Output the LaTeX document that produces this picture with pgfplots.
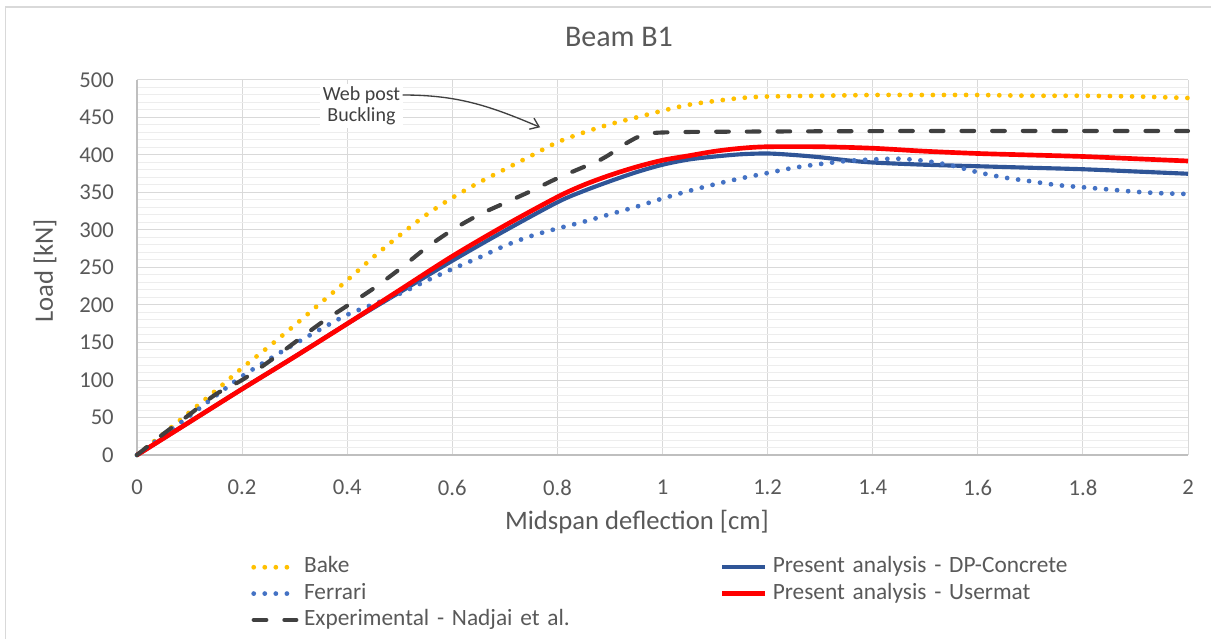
\documentclass[border=0pt]{standalone}
\usepackage{fontspec}
\setmainfont{Carlito}
\usepackage{pgfplots}
\pgfplotsset{compat=1.18}
\usetikzlibrary{arrows.meta}
\definecolor{txt}{HTML}{595959}
\definecolor{bake}{HTML}{FFC000}
\definecolor{ferr}{HTML}{4472C4}
\definecolor{dpc}{HTML}{2F5597}
\definecolor{usr}{HTML}{FF0000}
\definecolor{expc}{HTML}{404040}
\definecolor{gridmaj}{HTML}{D9D9D9}
\definecolor{gridmin}{HTML}{EDEDED}
\definecolor{axc}{HTML}{BFBFBF}
\begin{document}
\begin{tikzpicture}
\useasboundingbox (-102.75pt,-138pt) rectangle (805.5pt,341.25pt);
\draw[gridmaj, line width=1.2pt] (-98.6pt,-140pt) -- (-98.6pt,336pt) -- (810pt,336pt);
\begin{axis}[
  at={(0pt,0pt)}, anchor=south west,
  scale only axis, width=788.25pt, height=281.25pt,
  xmin=0, xmax=2, ymin=0, ymax=500,
  xtick={0,0.2,0.4,0.6,0.8,1,1.2,1.4,1.6,1.8,2},
  ytick={0,50,100,150,200,250,300,350,400,450,500},
  minor y tick num=4,
  xmajorgrids, ymajorgrids, yminorgrids,
  major grid style={gridmaj, line width=0.75pt},
  minor grid style={gridmin, line width=0.75pt},
  axis x line*=bottom, axis y line*=left,
  axis line style={axc, line width=1.5pt},
  tick style={draw=none},
  clip=false,
  /pgf/number format/assume math mode=true,
  ticklabel style={font=\fontsize{17}{20}\selectfont, text=txt, inner sep=0pt},
  xticklabel style={anchor=north, yshift=-18.75pt},
  yticklabel style={anchor=east, xshift=-17.25pt},
  title={Beam B1},
  title style={at={(axis description cs:0.4586,1.0933)}, anchor=center, font=\fontsize{22.5}{24}\selectfont, text=txt, inner sep=0pt},
  xlabel={Midspan deflection [cm]},
  xlabel style={at={(axis description cs:0.4757,-0.1787)}, anchor=center, font=\fontsize{20}{22}\selectfont, text=txt, inner sep=0pt},
  ylabel={Load [kN]},
  ylabel style={at={(axis description cs:-0.0875,0.4907)}, anchor=center, font=\fontsize{20}{22}\selectfont, text=txt, inner sep=0pt},
  legend columns=2,
  legend cell align=left,
  legend image code/.code={\path (0pt,0pt) (36pt,0pt); \draw[#1] (0pt,0pt) -- (32pt,0pt);},
  legend style={at={(axis description cs:0.1085,-0.2693)}, anchor=north west, draw=none, fill=none, inner sep=0pt,
    font=\fontsize{17.5}{20}\selectfont, text=txt, row sep=3.25pt,
    /tikz/every odd column/.append style={column sep=0pt},
    nodes={text width=312pt, align=left, text height=12.5pt, text depth=4pt, inner xsep=0pt, inner ysep=0pt}},
]
\addplot[bake, line width=3.6pt, line cap=round, dash pattern=on 0pt off 8.3pt, smooth, tension=0.5] coordinates {
(0,0) (0.05,28) (0.1,57) (0.15,86) (0.2,116) (0.25,144) (0.3,173) (0.35,203) (0.4,233) (0.45,264) (0.5,293) (0.55,320) (0.6,343) (0.65,363) (0.7,381) (0.75,399) (0.8,417) (0.85,430) (0.9,441) (0.95,450) (1.0,459) (1.05,467) (1.1,472) (1.15,476) (1.2,478) (1.3,479) (1.4,480) (1.5,480) (1.6,480) (1.7,479) (1.8,479) (1.9,478) (2.0,476)
};
\addlegendentry{Bake}
\addplot[dpc, line width=3.1pt, smooth, tension=0.5] coordinates {
(0,0) (0.1,44) (0.2,88) (0.3,131) (0.4,175) (0.5,217) (0.6,259) (0.7,299) (0.8,337) (0.85,352) (0.9,365) (0.95,377) (1.0,387) (1.05,394) (1.1,398) (1.15,401) (1.2,402) (1.25,400) (1.3,397) (1.35,393) (1.4,390) (1.5,387) (1.6,385) (1.7,383) (1.8,381) (1.9,378) (2.0,375)
};
\addlegendentry{Present analysis - DP-Concrete}
\addplot[ferr, line width=3.6pt, line cap=round, dash pattern=on 0pt off 8.3pt, smooth, tension=0.5] coordinates {
(0,0) (0.05,26) (0.1,52) (0.15,79) (0.2,105) (0.25,127) (0.3,148) (0.35,168) (0.4,187) (0.45,201) (0.5,215) (0.55,232) (0.6,248) (0.65,263) (0.7,279) (0.75,292) (0.8,302) (0.85,311) (0.9,321) (0.95,331) (1.0,342) (1.05,352) (1.1,361) (1.15,369) (1.2,376) (1.25,383) (1.3,388) (1.35,392) (1.4,394) (1.45,395) (1.5,392) (1.55,386) (1.6,377) (1.65,370) (1.7,365) (1.75,360) (1.8,357) (1.85,354) (1.9,351) (1.95,349) (2.0,348)
};
\addlegendentry{Ferrari}
\addplot[usr, line width=3.5pt, smooth, tension=0.5] coordinates {
(0,0) (0.1,44) (0.2,88) (0.3,131) (0.4,175) (0.5,220) (0.6,265) (0.7,306) (0.8,344) (0.85,360) (0.9,373) (0.95,384) (1.0,393) (1.05,399) (1.1,405) (1.15,409) (1.2,411) (1.3,411) (1.4,409) (1.5,405) (1.6,402) (1.7,400) (1.8,398) (1.9,395) (2.0,392)
};
\addlegendentry{Present analysis - Usermat}
\addplot[expc, line width=3.1pt, line cap=round, dash pattern=on 9.5pt off 13.5pt, smooth, tension=0.5] coordinates {
(0,0) (0.05,28) (0.1,54) (0.15,81) (0.2,100) (0.25,124) (0.3,150) (0.35,176) (0.4,199) (0.45,222) (0.5,248) (0.55,276) (0.6,300) (0.65,320) (0.7,336) (0.75,352) (0.8,369) (0.85,384) (0.88,393) (0.9,401) (0.92,411) (0.95,423) (0.97,428) (1.0,430) (1.1,431) (1.5,432) (2.0,432)
};
\addlegendentry{Experimental - Nadjai et al.}
\node[fill=white, inner sep=2pt, align=center, font=\fontsize{15}{15.75}\selectfont, text=expc] at (axis cs:0.4272,465) {Web post\\Buckling};
\draw[expc, line width=1pt, -{Straight Barb[length=6pt, width=9pt]}] (axis cs:0.5056,480) to[out=0, in=157] (axis cs:0.767,437);
\end{axis}
\end{tikzpicture}
\end{document}
